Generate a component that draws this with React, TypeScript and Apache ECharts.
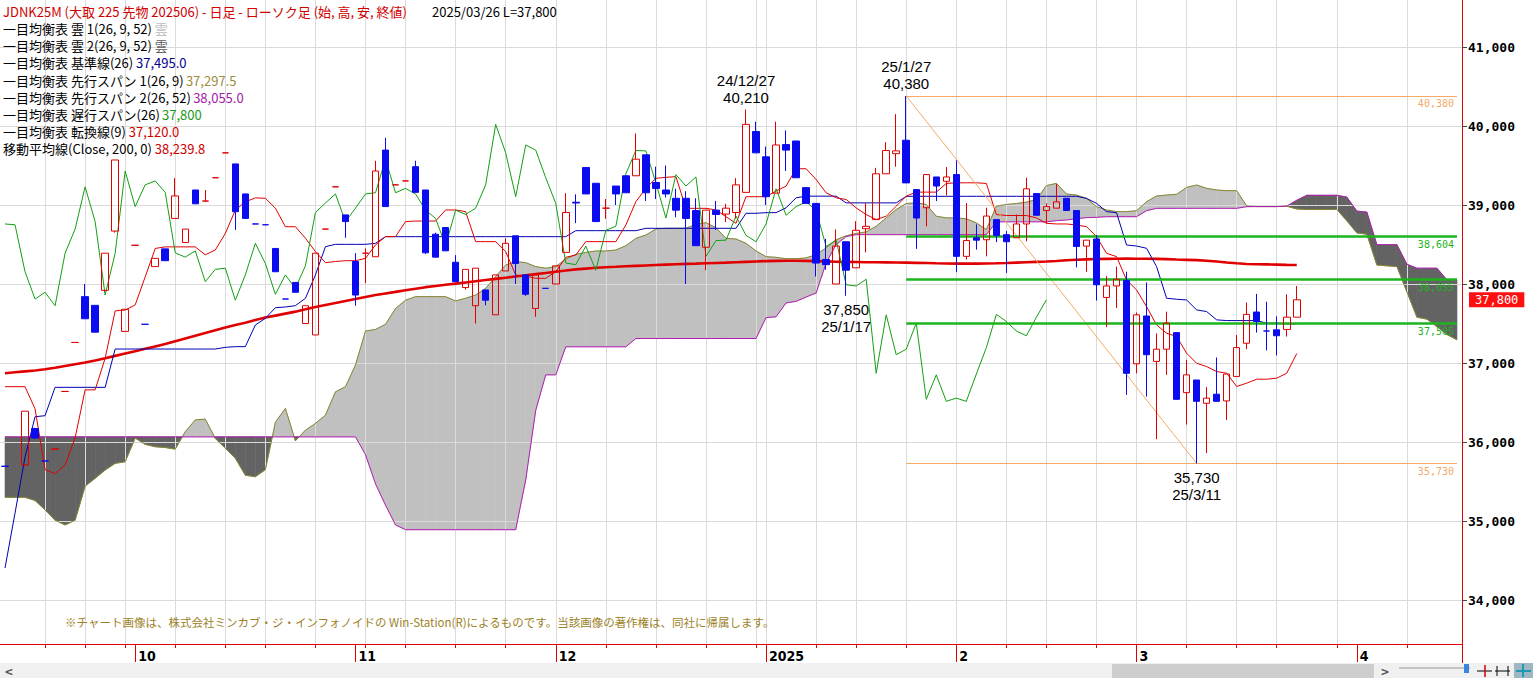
import React, { useEffect, useRef } from 'react';
import * as echarts from 'echarts';

// ---------------- categories (trading sessions + future calendar days) ----------------
const SESSIONS: [string, number[]][] = [
  ['2024/09', [10, 11, 12, 13, 17, 18, 19, 20, 24, 25, 26, 27, 30]],
  ['2024/10', [1, 2, 3, 4, 7, 8, 9, 10, 11, 15, 16, 17, 18, 21, 22, 23, 24, 25, 28, 29, 30, 31]],
  ['2024/11', [1, 5, 6, 7, 8, 11, 12, 13, 14, 15, 18, 19, 20, 21, 22, 25, 26, 27, 28, 29]],
  ['2024/12', [2, 3, 4, 5, 6, 9, 10, 11, 12, 13, 16, 17, 18, 19, 20, 23, 24, 25, 26, 27, 30]],
  ['2025/01', [6, 7, 8, 9, 10, 14, 15, 16, 17, 20, 21, 22, 23, 24, 27, 28, 29, 30, 31]],
  ['2025/02', [3, 4, 5, 6, 7, 10, 12, 13, 14, 17, 18, 19, 20, 21, 25, 26, 27, 28]],
  ['2025/03', [3, 4, 5, 6, 7, 10, 11, 12, 13, 14, 17, 18, 19, 21, 24, 25, 26]],
];
const FUTURE_DAYS = [
  '2025/03/27', '2025/03/28', '2025/03/29', '2025/03/30', '2025/03/31', '2025/04/01', '2025/04/02', '2025/04/03',
  '2025/04/04', '2025/04/05', '2025/04/06', '2025/04/07', '2025/04/08', '2025/04/09', '2025/04/10', '2025/04/11',
];

// ---------------- OHLC (index 1 = no trade) ----------------
const OPEN = [
  35695, null, 35710, 36170, 35760, 35910, 36640, 37260, 37840, 37730,
  37920, 38670, 37400, 38490, 37490, 38220, 38445, 38830, 38525, 39190,
  39050, 39345, 39660, 39520, 39140, 38760, 38750, 38450, 37810, 38020,
  37500, 37355, 38695, 39230, 38875, 38285, 38390, 38345, 39695, 39255,
  39305, 39485, 39190, 38630, 38715, 38275, 37955, 37725, 37925, 37610,
  38165, 38610, 38115, 37690, 37945, 38000, 38400, 39035, 39475, 39275,
  38960, 39240, 39370, 39370, 39635, 39285, 39190, 39085, 39085, 38930,
  38465, 38935, 38885, 38905, 39160, 39930, 39610, 39150, 39765, 39810,
  39220, 39020, 38310, 38000, 38535, 38205, 38700, 38815, 39395, 39650,
  39820, 39195, 38965, 39355, 39300, 39385, 38350, 38585, 38560, 38815,
  38625, 38585, 38760, 39145, 38930, 38960, 39085, 38930, 38480, 38570,
  37830, 37975, 38045, 36990, 37595, 37020, 37175, 37385, 36625, 36785,
  36490, 36605, 36520, 36830, 37250, 37645, 37405, 37420, 37425, 37580,
];
const HIGH = [
  35695, null, 36390, 36180, 35760, 35910, 36640, 37260, 38000, 37730,
  38390, 39570, 37680, 38490, 37490, 38325, 38445, 39340, 38695, 39190,
  39190, 39345, 39660, 39520, 39140, 38760, 38750, 38450, 37810, 38020,
  37725, 38390, 38695, 39230, 38875, 38390, 38450, 39560, 39850, 39255,
  39305, 39560, 39190, 38650, 38715, 38365, 38185, 38200, 37925, 38115,
  38580, 38610, 38115, 38115, 37945, 38230, 39150, 39135, 39475, 39275,
  39075, 39240, 39370, 39905, 39635, 39485, 39500, 39205, 39175, 39085,
  38935, 39050, 39015, 39340, 40210, 40055, 39740, 40055, 39945, 39810,
  39220, 39020, 38570, 38690, 38535, 38795, 39025, 39470, 39795, 40150,
  40380, 39195, 39385, 39355, 39480, 39565, 39025, 38755, 38965, 38815,
  38670, 38880, 39345, 39145, 39020, 39265, 39085, 38930, 38555, 38620,
  38100, 38220, 38155, 37640, 38020, 37375, 37650, 37385, 37040, 36785,
  36695, 37070, 36860, 37355, 37765, 37875, 37775, 37590, 37870, 37975,
];
const LOW = [
  35690, null, 35700, 36040, 35760, 35910, 36640, 37260, 37560, 37390,
  37900, 38650, 37400, 38490, 37490, 38220, 38295, 38830, 38525, 39015,
  39050, 39345, 39660, 38685, 38830, 38760, 38750, 38155, 37810, 37895,
  37500, 37355, 38695, 39230, 38585, 37725, 38010, 38345, 38980, 39255,
  39305, 39160, 38380, 38340, 38420, 38030, 37930, 37500, 37730, 37610,
  38165, 38000, 37850, 37585, 37945, 38000, 38400, 38770, 39140, 38790,
  38825, 39000, 39155, 39370, 39050, 39075, 39095, 38845, 38000, 38485,
  38175, 38685, 38785, 38830, 39160, 39660, 39000, 39150, 39430, 39345,
  39020, 38095, 38180, 38000, 37850, 38205, 38400, 38815, 39395, 39485,
  39280, 38445, 38730, 39050, 39120, 38150, 38310, 38435, 38350, 38530,
  38140, 38585, 38540, 38870, 38770, 38960, 38930, 38210, 38155, 37790,
  37455, 37695, 36595, 36870, 36575, 36035, 36850, 36540, 36220, 35730,
  35860, 36515, 36280, 36830, 37175, 37385, 37160, 37095, 37335, 37580,
];
const CLOSE = [
  35690, null, 36390, 36050, 35760, 35910, 36640, 37260, 37560, 37390,
  38390, 39570, 37680, 38490, 37490, 38325, 38295, 39115, 38695, 39015,
  39050, 39345, 39660, 38915, 38830, 38760, 38750, 38155, 37810, 37895,
  37725, 38390, 38695, 39230, 38790, 37860, 38390, 39430, 38980, 39255,
  39305, 39160, 38395, 38340, 38420, 38030, 38185, 38200, 37795, 38115,
  38515, 38260, 37870, 38115, 37945, 38230, 38905, 39025, 39140, 38790,
  38960, 39140, 39155, 39580, 39155, 39210, 39140, 38935, 38830, 38485,
  38935, 38880, 38960, 39255, 40020, 39660, 39105, 39760, 39695, 39345,
  39020, 38265, 38245, 38480, 38175, 38680, 38730, 39395, 39690, 39685,
  39280, 38835, 39385, 39240, 39355, 38350, 38550, 38555, 38860, 38615,
  38535, 38760, 39205, 38870, 38980, 39040, 38930, 38475, 38555, 37990,
  37975, 38060, 36870, 37610, 37105, 37175, 37505, 36540, 36850, 36515,
  36555, 36515, 36860, 37195, 37615, 37525, 37405, 37345, 37580, 37800,
];

// ---------------- indicator lines ----------------
const TENKAN = [
  36700, 36700, 36700, 36420, 35650, 35600, 35710, 36050, 36660, 36660,
  37060, 37660, 37670, 37735, 38090, 38450, 38470, 38470, 38470, 38470,
  38370, 38430, 38640, 38935, 39040, 39090, 39085, 38960, 38725, 38725,
  38580, 38410, 38270, 38285, 38295, 38295, 38325, 38495, 38600, 38600,
  38790, 38797, 38797, 38797, 38937, 38937, 38916, 38536, 38536, 38536,
  38410, 38114, 38100, 38072, 38072, 38156, 38338, 38367, 38536, 38536,
  38536, 38536, 38747, 39042, 39211, 39338, 39350, 39359, 38958, 38958,
  38958, 38937, 38852, 38768, 39105, 39105, 39105, 39177, 39239, 39459,
  39459, 39323, 39154, 39091, 39070, 38964, 38879, 38816, 38858, 38985,
  39112, 39163, 39163, 39163, 39273, 39281, 39281, 39281, 39273, 38879,
  38867, 38867, 38867, 38837, 38768, 38760, 38760, 38747, 38726, 38600,
  38389, 38347, 38051, 37925, 37714, 37482, 37377, 37335, 37124, 36997,
  36955, 36892, 36871, 36702, 36745, 36795, 36795, 36808, 36871, 37120,
];
const KIJUN = [
  34405, 35100, 35810, 36320, 36333, 36692, 36692, 36692, 36692, 36692,
  36692, 37177, 37177, 37177, 37177, 37177, 37177, 37177, 37177, 37177,
  37177, 37177, 37198, 37207, 37207, 37481, 37565, 37700, 37709, 37726,
  37819, 38114, 38473, 38502, 38502, 38502, 38502, 38515, 38599, 38599,
  38599, 38599, 38599, 38599, 38599, 38599, 38599, 38599, 38599, 38599,
  38599, 38599, 38599, 38599, 38599, 38599, 38599, 38675, 38675, 38675,
  38675, 38675, 38675, 38675, 38705, 38705, 38705, 38705, 38705, 38705,
  38705, 38705, 38705, 38705, 38895, 38895, 38903, 38903, 38964, 39091,
  39112, 39112, 39112, 39112, 39027, 39027, 39027, 39027, 39027, 39027,
  39110, 39110, 39110, 39110, 39110, 39110, 39110, 39110, 39110, 39110,
  39110, 39110, 39110, 39110, 39110, 39110, 39110, 39110, 39084, 39021,
  38916, 38903, 38494, 38481, 38452, 38220, 37820, 37807, 37798, 37672,
  37651, 37546, 37537, 37537, 37537, 37537, 37503, 37503, 37495, 37495,
];
const MA200 = [
  36870, 36882, 36894, 36906, 36920, 36940, 36962, 36984, 37006, 37032,
  37060, 37090, 37120, 37150, 37180, 37210, 37240, 37275, 37310, 37345,
  37380, 37415, 37450, 37480, 37510, 37545, 37575, 37600, 37625, 37650,
  37680, 37710, 37735, 37760, 37785, 37810, 37835, 37860, 37880, 37900,
  37920, 37940, 37960, 37975, 37990, 38005, 38020, 38035, 38050, 38065,
  38080, 38095, 38110, 38125, 38140, 38155, 38170, 38185, 38195, 38205,
  38212, 38218, 38225, 38230, 38235, 38240, 38245, 38250, 38255, 38258,
  38262, 38266, 38270, 38275, 38280, 38285, 38290, 38293, 38295, 38295,
  38293, 38290, 38286, 38282, 38280, 38278, 38276, 38275, 38274, 38272,
  38270, 38268, 38265, 38262, 38260, 38258, 38258, 38258, 38260, 38262,
  38265, 38270, 38275, 38280, 38285, 38292, 38300, 38306, 38312, 38316,
  38318, 38320, 38321, 38320, 38320, 38318, 38315, 38310, 38306, 38302,
  38295, 38285, 38272, 38262, 38253, 38250, 38248, 38245, 38242, 38240,
];
const SPAN_A = [
  35300, 35300, 35300, 35260, 35140, 35010, 34950, 35010, 35440, 35540,
  35645, 35730, 35750, 36050, 35970, 35940, 35930, 35910, 36130, 36280,
  36290, 36045, 35920, 35795, 35580, 35560, 35650, 36250, 36425, 36015,
  36150, 36235, 36340, 36635, 36700, 36975, 37405, 37425, 37490, 37690,
  37795, 37840, 37840, 37840, 37840, 37785, 37820, 37860, 37945, 38095,
  38240, 38285, 38270, 38220, 38200, 38220, 38315, 38375, 38400, 38418,
  38418, 38430, 38485, 38578, 38620, 38696, 38705, 38705, 38705, 38755,
  38776, 38713, 38578, 38570, 38515, 38418, 38346, 38338, 38320, 38321,
  38330, 38372, 38457, 38560, 38610, 38640, 38660, 38731, 38837, 38943,
  39019, 39027, 39006, 38858, 38837, 38837, 38825, 38774, 38689, 38985,
  39006, 39019, 39036, 39070, 39245, 39274, 39139, 39126, 39084, 38979,
  38937, 38916, 38916, 38928, 39042, 39114, 39126, 39135, 39223, 39253,
  39211, 39190, 39181, 39181, 38987, 38980, 38980, 38980, 38985, 38950,
  38944, 38944, 38944, 38944, 38800, 38647, 38630, 38240, 38230, 38221,
  37900, 37580, 37555, 37460, 37360, 37293,
];
const SPAN_B = [
  36065, 36065, 36065, 36065, 36065, 36065, 36065, 36065, 36065, 36065,
  36065, 36065, 36065, 36065, 36065, 36065, 36065, 36065, 36065, 36065,
  36065, 36065, 36065, 36065, 36065, 36065, 36065, 36065, 36065, 36065,
  36065, 36065, 36065, 36065, 36065, 36065, 35840, 35470, 35200, 34950,
  34890, 34890, 34890, 34890, 34890, 34890, 34890, 34890, 34890, 34890,
  34890, 34890, 35520, 36400, 36850, 36850, 37205, 37205, 37205, 37205,
  37205, 37205, 37205, 37310, 37310, 37310, 37310, 37310, 37310, 37310,
  37310, 37310, 37310, 37310, 37310, 37310, 37575, 37585, 37760, 37780,
  37835, 37886, 38266, 38500, 38600, 38625, 38625, 38625, 38625, 38625,
  38625, 38625, 38625, 38625, 38625, 38625, 38625, 38625, 38625, 38787,
  38787, 38787, 38787, 38787, 38787, 38802, 38810, 38827, 38840, 38844,
  38852, 38852, 38852, 38852, 38928, 38958, 38958, 38958, 38958, 38958,
  38958, 38958, 38958, 38958, 38979, 38980, 38980, 38980, 38985, 39060,
  39123, 39123, 39123, 39123, 39100, 38923, 38910, 38498, 38498, 38498,
  38250, 38200, 38200, 38200, 38051, 38051,
];
const CHIKOU_SHIFT = 25;
const FIB_LEVELS = [38604, 38055, 37505];
const HIGH_IDX = 90; // 25/1/27
const LOW_IDX = 119; // 25/3/11
const NOTE_HIGH_IDX = 74; // 24/12/27
const NOTE_LOW_IDX = 84; // 25/1/17
const Y_TICKS = { min: 33000, max: 42000, step: 1000, shownMin: 34000, shownMax: 41000 };

// ---------------- colours ----------------
const RED = '#e00000';
const BLUE = '#0b0bf0';
const KIJUN_C = '#0000b4';
const SPAN_A_C = '#86862e';
const SPAN_B_C = '#b21cb2';
const CHIKOU_C = '#12a012';
const CLOUD_LIGHT = '#c0c0c0';
const CLOUD_DARK = '#636363';
const GRID_C = '#dadada';
const ORANGE = '#f3aa66';
const FIB_C = '#1cb41c';
const JP = '"Noto Sans CJK JP", "Noto Sans", sans-serif';
const MONO = '"DejaVu Sans Mono", "Liberation Mono", monospace';

const pad = (n: number) => (n < 10 ? '0' + n : '' + n);
const DATES: string[] = [
  ...SESSIONS.flatMap(([m, ds]) => ds.map((d) => `${m}/${pad(d)}`)),
  ...FUTURE_DAYS,
];
const dayNum = (s: string) => {
  const [y, m, d] = s.split('/').map(Number);
  return Math.floor(Date.UTC(y, m - 1, d) / 86400000);
};
const WEEK_ID = DATES.map((s) => Math.floor((dayNum(s) + 4) / 7));
const IS_WEEK_START = DATES.map((_, i) => i > 0 && WEEK_ID[i] !== WEEK_ID[i - 1]);
const IS_MONTH_START = DATES.map((s, i) => i > 0 && s.slice(0, 7) !== DATES[i - 1].slice(0, 7));
const monthLabel = (s: string) => {
  const [y, m] = s.split('/');
  return m === '01' ? y : String(Number(m));
};
const fmt = (v: number) => v.toLocaleString('en-US');
const shortDate = (s: string) => {
  const [y, m, d] = s.split('/');
  return `${y.slice(2)}/${Number(m)}/${Number(d)}`;
};

function buildOption(): any {
  const candles = OPEN.map((o, i) =>
    o == null ? ['-', '-', '-', '-'] : [o, CLOSE[i], LOW[i], HIGH[i]]
  );
  const chikou = DATES.map((_, i) => (i + CHIKOU_SHIFT < CLOSE.length ? CLOSE[i + CHIKOU_SHIFT] : null));
  const cloudData: number[][] = [];
  for (let i = 0; i < SPAN_A.length - 1; i++) {
    cloudData.push([i, SPAN_A[i], SPAN_B[i], SPAN_A[i + 1], SPAN_B[i + 1]]);
  }
  const lastCat = DATES[DATES.length - 1];
  const lastIdx = CLOSE.length - 1;
  const lastClose = CLOSE[lastIdx] as number;

  const line = (name: string, data: any[], color: string, width: number, z: number) => ({
    type: 'line',
    name,
    data,
    symbol: 'none',
    showSymbol: false,
    silent: true,
    z,
    lineStyle: { color, width },
  });

  const smallLabel = (color: string, v: number) => ({
    show: true,
    position: 'insideEndBottom',
    distance: 3,
    color,
    fontFamily: MONO,
    fontSize: 10,
    formatter: fmt(v),
  });

  const hiV = HIGH[HIGH_IDX] as number;
  const loV = LOW[LOW_IDX] as number;
  const oStyle = { color: ORANGE, width: 1, type: 'solid', opacity: 1 };
  const markLines: any[] = [
    [
      { coord: [DATES[HIGH_IDX], hiV], lineStyle: oStyle, label: smallLabel(ORANGE, hiV) },
      { coord: [lastCat, hiV], lineStyle: oStyle },
    ],
    [
      { coord: [DATES[HIGH_IDX], loV], lineStyle: oStyle, label: smallLabel(ORANGE, loV) },
      { coord: [lastCat, loV], lineStyle: oStyle },
    ],
    [
      { coord: [DATES[HIGH_IDX], hiV], lineStyle: oStyle, label: { show: false } },
      { coord: [DATES[LOW_IDX], loV], lineStyle: oStyle },
    ],
    ...FIB_LEVELS.map((v) => [
      { coord: [DATES[HIGH_IDX], v], lineStyle: { color: FIB_C, width: 2.5, type: 'solid' }, label: smallLabel(FIB_C, v) },
      { coord: [lastCat, v] },
    ]),
  ];

  const note = (idx: number, value: number, top: boolean) => ({
    coord: [DATES[idx], value],
    label: {
      show: true,
      position: top ? 'top' : 'bottom',
      distance: top ? 3 : 5,
      formatter: top ? `${shortDate(DATES[idx])}\n${fmt(value)}` : `${fmt(value)}\n${shortDate(DATES[idx])}`,
    },
  });

  const LEG_FS = 13;
  const legendLine = (y: number, text: string, rich: any = {}) => ({
    type: 'text',
    x: 3,
    y,
    z: 40,
    silent: true,
    style: {
      text,
      fill: '#000',
      fontSize: LEG_FS,
      fontFamily: JP,
      verticalAlign: 'middle',
      rich,
    },
  });
  const rt = (fill: string) => ({ fill, fontSize: LEG_FS, fontFamily: JP });

  return {
    animation: false,
    backgroundColor: '#ffffff',
    grid: { left: 0, top: -32, width: 1462, height: 711, containLabel: false, outerBoundsMode: 'none' },
    xAxis: [
      {
        type: 'category',
        data: DATES,
        z: 1,
        axisLine: { show: false },
        axisTick: { show: false, alignWithLabel: true },
        axisLabel: { show: false },
        splitLine: {
          show: true,
          alignWithLabel: true,
          interval: (i: number) => IS_WEEK_START[i],
          lineStyle: { color: GRID_C, width: 1 },
        },
      },
      {
        type: 'category',
        data: DATES,
        position: 'bottom',
        offset: -35,
        z: 10,
        axisLine: { show: true, lineStyle: { color: RED, width: 1 } },
        axisTick: {
          show: true,
          alignWithLabel: true,
          interval: (i: number) => IS_WEEK_START[i],
          length: 4,
          lineStyle: { color: RED, width: 1 },
        },
        axisLabel: { show: false },
        splitLine: { show: false },
      },
      {
        type: 'category',
        data: DATES,
        position: 'bottom',
        offset: -35,
        z: 10,
        axisLine: { show: false },
        axisTick: {
          show: true,
          alignWithLabel: true,
          interval: (i: number) => IS_MONTH_START[i],
          length: 18,
          lineStyle: { color: RED, width: 1 },
        },
        axisLabel: {
          show: true,
          interval: (i: number) => IS_MONTH_START[i],
          formatter: (v: string) => monthLabel(v),
          align: 'left',
          margin: 5,
          padding: [0, 0, 0, 3],
          color: '#000',
          fontSize: 14,
          fontWeight: 'bold',
          fontFamily: '"Liberation Sans Narrow", "DejaVu Sans Condensed", "Liberation Sans", sans-serif',
        },
        splitLine: { show: false },
      },
    ],
    yAxis: {
      type: 'value',
      position: 'right',
      min: Y_TICKS.min,
      max: Y_TICKS.max,
      interval: Y_TICKS.step,
      z: 1,
      axisLine: { show: true, lineStyle: { color: RED, width: 1 } },
      axisTick: { show: true, length: 5, lineStyle: { color: '#444' } },
      axisLabel: {
        margin: 6,
        color: '#000',
        fontFamily: MONO,
        fontWeight: 'bold',
        fontSize: 13,
        showMinLabel: false,
        showMaxLabel: false,
        formatter: (v: number) => (v < Y_TICKS.shownMin || v > Y_TICKS.shownMax ? '' : fmt(v)),
      },
      splitLine: { show: true, lineStyle: { color: GRID_C, width: 1 } },
    },
    series: [
      {
        type: 'custom',
        name: 'cloud',
        z: 0,
        silent: true,
        data: cloudData,
        encode: { x: 0, y: [1, 2, 3, 4] },
        renderItem: (_params: any, api: any) => {
          const i = api.value(0);
          const a0 = api.value(1), b0 = api.value(2), a1 = api.value(3), b1 = api.value(4);
          const A0 = api.coord([i, a0]), B0 = api.coord([i, b0]);
          const A1 = api.coord([i + 1, a1]), B1 = api.coord([i + 1, b1]);
          const d0 = a0 - b0, d1 = a1 - b1;
          const col = (d: number) => (d >= 0 ? CLOUD_LIGHT : CLOUD_DARK);
          const poly = (pts: number[][], fill: string) => ({
            type: 'polygon',
            shape: { points: pts },
            style: { fill, stroke: fill, lineWidth: 0.6 },
          });
          if (d0 * d1 >= 0) {
            return { type: 'group', children: [poly([A0, A1, B1, B0], col(d0 + d1))] };
          }
          const t = d0 / (d0 - d1);
          const X = [A0[0] + (A1[0] - A0[0]) * t, A0[1] + (A1[1] - A0[1]) * t];
          return { type: 'group', children: [poly([A0, X, B0], col(d0)), poly([X, A1, B1], col(d1))] };
        },
      },
      line('spanA', SPAN_A, SPAN_A_C, 1, 2),
      line('spanB', SPAN_B, SPAN_B_C, 1, 2),
      line('ma200', MA200, RED, 2.6, 3),
      line('kijun', KIJUN, KIJUN_C, 1, 3),
      line('tenkan', TENKAN, RED, 1, 3),
      line('chikou', chikou, CHIKOU_C, 1, 3),
      {
        type: 'candlestick',
        name: 'JDNK25M',
        data: candles,
        barWidth: 7,
        z: 5,
        silent: true,
        itemStyle: {
          color: 'rgba(255,255,255,0)',
          color0: BLUE,
          borderColor: RED,
          borderColor0: BLUE,
          borderWidth: 1,
        },
        markLine: {
          symbol: ['none', 'none'],
          silent: true,
          animation: false,
          data: markLines,
        },
        markPoint: {
          symbol: 'circle',
          symbolSize: 1,
          silent: true,
          itemStyle: { color: 'rgba(0,0,0,0)' },
          label: {
            color: '#000',
            fontSize: 15,
            lineHeight: 17,
            fontFamily: '"Liberation Sans", Arial, sans-serif',
            align: 'center',
          },
          data: [
            note(NOTE_HIGH_IDX, HIGH[NOTE_HIGH_IDX] as number, true),
            note(HIGH_IDX, hiV, true),
            note(NOTE_LOW_IDX, LOW[NOTE_LOW_IDX] as number, false),
            note(LOW_IDX, loV, false),
          ],
        },
      },
      {
        // last price tag on the price axis
        type: 'line',
        name: 'lastPrice',
        data: [],
        silent: true,
        z: 20,
        markLine: {
          symbol: ['none', 'none'],
          silent: true,
          animation: false,
          lineStyle: { color: 'rgba(0,0,0,0)', width: 0 },
          label: {
            show: true,
            position: 'end',
            distance: 12,
            color: '#ffffff',
            backgroundColor: '#ff1010',
            padding: [2, 6, 1, 6],
            fontFamily: MONO,
            fontSize: 12,
            formatter: fmt(lastClose),
          },
          data: [[{ coord: [DATES[lastIdx], lastClose] }, { coord: [lastCat, lastClose] }]],
        },
      },
    ],
    graphic: [
      // white band below the x axis line (hides vertical grid lines)
      { type: 'rect', z: 2, silent: true, shape: { x: 0, y: 645, width: 1461, height: 18 }, style: { fill: '#ffffff' } },
      // bottom scroll bar
      { type: 'rect', z: 30, silent: true, shape: { x: 0, y: 663, width: 1533, height: 15 }, style: { fill: '#f0f0f0' } },
      { type: 'rect', z: 31, silent: true, shape: { x: 1112, y: 664, width: 262, height: 14 }, style: { fill: '#cdcdcd' } },
      { type: 'text', z: 31, silent: true, x: 5, y: 671, style: { text: '<', fill: '#555', fontSize: 13, fontWeight: 'bold', fontFamily: MONO, verticalAlign: 'middle' } },
      { type: 'text', z: 31, silent: true, x: 1381, y: 671, style: { text: '>', fill: '#555', fontSize: 13, fontWeight: 'bold', fontFamily: MONO, verticalAlign: 'middle' } },
      { type: 'line', z: 31, silent: true, shape: { x1: 1399, y1: 668, x2: 1470, y2: 668 }, style: { stroke: '#c4c4c4', lineWidth: 2 } },
      { type: 'rect', z: 32, silent: true, shape: { x: 1464, y: 664, width: 5, height: 9 }, style: { fill: '#3a86dc' } },
      { type: 'line', z: 31, silent: true, shape: { x1: 1477, y1: 671, x2: 1492, y2: 671 }, style: { stroke: '#000', lineWidth: 1 } },
      { type: 'line', z: 31, silent: true, shape: { x1: 1485, y1: 665, x2: 1485, y2: 677 }, style: { stroke: '#d00000', lineWidth: 1.5 } },
      { type: 'line', z: 31, silent: true, shape: { x1: 1495, y1: 671, x2: 1510, y2: 671 }, style: { stroke: '#000', lineWidth: 1 } },
      { type: 'line', z: 31, silent: true, shape: { x1: 1497, y1: 666, x2: 1497, y2: 676 }, style: { stroke: '#000', lineWidth: 1 } },
      { type: 'line', z: 31, silent: true, shape: { x1: 1508, y1: 666, x2: 1508, y2: 676 }, style: { stroke: '#000', lineWidth: 1 } },
      { type: 'rect', z: 31, silent: true, shape: { x: 1514, y: 663, width: 19, height: 15 }, style: { fill: '#9fb7c3' } },
      { type: 'line', z: 32, silent: true, shape: { x1: 1523, y1: 664, x2: 1523, y2: 677 }, style: { stroke: '#1c9ab0', lineWidth: 2 } },
      { type: 'line', z: 32, silent: true, shape: { x1: 1516, y1: 671, x2: 1531, y2: 671 }, style: { stroke: '#1c9ab0', lineWidth: 2 } },
      // legend block
      {
        type: 'text', x: 3, y: 11, z: 40, silent: true,
        style: {
          text: 'JDNK25M (大取 225 先物 202506) - 日足 - ローソク足 (始, 高, 安, 終値)',
          fill: '#d00000', fontSize: LEG_FS, fontFamily: JP, verticalAlign: 'middle',
        },
      },
      {
        type: 'text', x: 432, y: 11, z: 40, silent: true,
        style: { text: '2025/03/26 L=37,800', fill: '#000', fontSize: LEG_FS, fontFamily: JP, verticalAlign: 'middle' },
      },
      legendLine(28, '一目均衡表 雲 1(26, 9, 52) {c|雲}', { c: rt('#bdbdbd') }),
      legendLine(45, '一目均衡表 雲 2(26, 9, 52) {c|雲}', { c: rt('#5a5a5a') }),
      legendLine(62, '一目均衡表 基準線(26) {c|37,495.0}', { c: rt('#00008c') }),
      legendLine(80, '一目均衡表 先行スパン 1(26, 9) {c|37,297.5}', { c: rt('#9a8c3a') }),
      legendLine(97, '一目均衡表 先行スパン 2(26, 52) {c|38,055.0}', { c: rt('#a21aa8') }),
      legendLine(114, '一目均衡表 遅行スパン(26) {c|37,800}', { c: rt('#1a9a1a') }),
      legendLine(131, '一目均衡表 転換線(9) {c|37,120.0}', { c: rt('#d00000') }),
      legendLine(148, '移動平均線(Close, 200, 0) {c|38,239.8}', { c: rt('#d00000') }),
      // footnote
      {
        type: 'text', x: 65, y: 622, z: 40, silent: true,
        style: {
          text: '※チャート画像は、株式会社ミンカブ・ジ・インフォノイドの Win-Station(R)によるものです。当該画像の著作権は、同社に帰属します。',
          fill: '#9c8228', fontSize: 11.5, fontFamily: JP, verticalAlign: 'middle',
        },
      },
    ],
  };
}

export default function App() {
  const ref = useRef<HTMLDivElement>(null);
  useEffect(() => {
    if (!ref.current) return;
    const chart = echarts.init(ref.current, null, { renderer: 'svg' });
    chart.setOption(buildOption());
    return () => chart.dispose();
  }, []);
  return (
    <div
      ref={ref}
      style={{ position: 'absolute', left: 0, top: 0, width: 1533, height: 678, background: '#ffffff' }}
    />
  );
}
